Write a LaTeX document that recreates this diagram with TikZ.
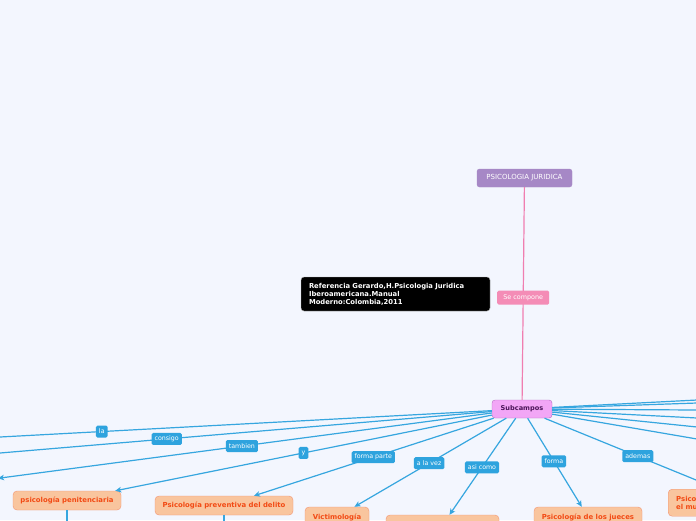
\documentclass[tikz,border=0pt]{standalone}
\usepackage{fontspec}
\setmainfont{DejaVu Sans}
\usetikzlibrary{arrows.meta}
\definecolor{bg}{HTML}{F3F6FE}
\definecolor{purp}{HTML}{A688C6}
\definecolor{pinkl}{HTML}{F07EB0}
\definecolor{pinkf}{HTML}{F48CB6}
\definecolor{subf}{HTML}{F2A6F6}
\definecolor{subd}{HTML}{B56CC2}
\definecolor{subt}{HTML}{4A1458}
\definecolor{blu}{HTML}{36A6DF}
\definecolor{bluf}{HTML}{2EA3DE}
\definecolor{peach}{HTML}{F9C59E}
\definecolor{peachd}{HTML}{F29473}
\definecolor{orgt}{HTML}{F24A14}
\begin{document}
\begin{tikzpicture}[x=1pt,y=-1pt,
  root/.style={fill=purp,draw=purp,rounded corners=2.5pt,text=white,
    font=\fontsize{7}{8}\selectfont,minimum width=95pt,minimum height=18pt,inner sep=0pt},
  refbox/.style={fill=black,draw=gray!60,rounded corners=3pt,text=white,
    font=\bfseries\fontsize{6.8}{8}\selectfont,align=left,text width=173pt,
    minimum height=34pt,inner xsep=8pt,inner ysep=0pt},
  pinklbl/.style={fill=pinkf,text=white,font=\fontsize{6.4}{7}\selectfont,
    minimum width=52pt,minimum height=14pt,inner xsep=3pt,inner ysep=0pt,rounded corners=1.5pt},
  hub/.style={fill=subf,draw=subd,rounded corners=3pt,text=subt,
    font=\bfseries\fontsize{6.6}{8}\selectfont,minimum width=60pt,minimum height=18pt,inner sep=0pt},
  lbl/.style={fill=bluf,text=white,font=\fontsize{6.3}{7}\selectfont,
    minimum height=12pt,inner xsep=3pt,inner ysep=0pt,rounded corners=1.5pt},
  leaf/.style={fill=peach,draw=peachd,rounded corners=4pt,text=orgt,
    font=\bfseries\fontsize{6.9}{8.5}\selectfont,minimum height=19pt,inner sep=0pt},
  conn/.style={draw=blu,line width=1.2pt},
  arr/.style={conn,-{Stealth[length=6pt,width=5.5pt,inset=1.5pt]}},
  pinkconn/.style={draw=pinkl,line width=1.2pt}]
\useasboundingbox (0,0) rectangle (696,520);
\clip (0,0) rectangle (696,520);
\fill[bg] (0,0) rectangle (696,520);

% nodes
\node[root] (psy) at (524.5,178) {PSICOLOGIA JURIDICA};
\node[refbox] (ref) at (395.5,294) {Referencia Gerardo,H.Psicologia Juridica\\Iberoamericana.Manual\\Moderno:Colombia,2011};
\node[hub] (sub) at (522,409) {Subcampos};
\node[leaf,minimum width=108pt] (pen) at (67,500.5) {psicología penitenciaria};
\node[leaf,minimum width=138pt] (prev) at (224,505.5) {Psicología preventiva del delito};
\node[leaf,minimum width=64pt,minimum height=20pt] (vic) at (337,517) {Victimología};
\node[leaf,minimum width=113pt,minimum height=20pt] (asi) at (442.5,525) {};
\node[leaf,minimum width=108pt,minimum height=20pt] (jue) at (588,517) {Psicología de los jueces};
\node[leaf,anchor=north west,text width=120pt,align=left,minimum height=27pt,inner xsep=8pt] (mun) at (668,489) {Psicología en\\el mundo};

% free ends
\coordinate (cL1) at (0,437);
\coordinate (cL2) at (0,453);
\coordinate (cL3) at (-2,478.3);
\coordinate (cR9) at (700,481.6);
\coordinate (cR1) at (697,400);
\coordinate (cR2) at (697,403);
\coordinate (cR3) at (697,410);
\coordinate (cR4) at (697,418);
\coordinate (cR5) at (697,427);
\coordinate (cR6) at (697,439);
\coordinate (penend) at (67,530);
\coordinate (prevend) at (224,530);

% connectors
\draw[pinkconn] (psy) -- (sub) node[pinklbl,pos=0.519] (secomp) {Se compone};

\draw[conn] (sub) -- (cL1) node[lbl,pos=0.793] (lla) {la};
\draw[conn] (sub) -- (cL2) node[lbl,pos=0.661] (lcons) {consigo};
\draw[arr] (sub) -- (cL3) node[lbl,pos=0.506] (ltamb) {tambien};
\draw[arr] (sub) -- (pen) node[lbl,pos=0.5] (ly) {y};
\draw[arr] (sub) -- (prev) node[lbl,pos=0.502] (lfp) {forma parte};
\draw[arr] (sub) -- (vic) node[lbl,pos=0.508] (lalv) {a la vez};
\draw[arr] (sub) -- (asi) node[lbl,pos=0.509] (lasi) {asi como};
\draw[arr] (sub) -- (jue) node[lbl,pos=0.486] (lforma) {forma};
\draw[conn] (sub) -- (cR9) node[lbl,pos=0.60] (lade) {ademas};

\draw[conn] (sub) -- (cR1);
\draw[conn] (sub) -- (cR2);
\draw[conn] (sub) -- (cR3);
\draw[conn] (sub) -- (cR4);
\draw[conn] (sub) -- (cR5);
\draw[conn] (sub) -- (cR6);

\draw[conn] (pen) -- (penend);
\draw[conn] (prev) -- (prevend);
\end{tikzpicture}
\end{document}
